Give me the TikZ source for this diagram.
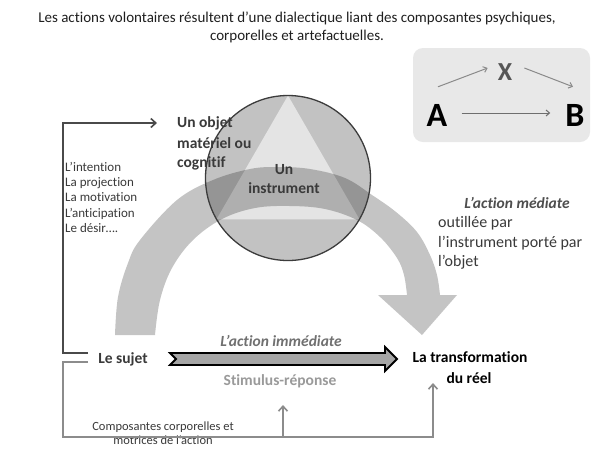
\documentclass[tikz,border=0pt]{standalone}
\usepackage{fontspec}
\setmainfont{Carlito}[Ligatures=CommonOff]
\usetikzlibrary{arrows.meta}
\definecolor{circfill}{HTML}{C2C2C2}
\definecolor{trifill}{HTML}{E4E4E4}
\definecolor{circline}{HTML}{3C3C3C}
\definecolor{boxfill}{HTML}{E8E8E8}
\definecolor{darkline}{HTML}{4A4A4A}
\definecolor{lightline}{HTML}{8C8C8C}
\definecolor{bigarrow}{HTML}{A6A6A6}
\definecolor{txtdark}{HTML}{3A3A3A}
\definecolor{txtgray}{HTML}{707070}
\definecolor{txtlight}{HTML}{9A9A9A}
\definecolor{xcol}{HTML}{555555}
\definecolor{smallarrow}{HTML}{8A8A8A}
\begin{document}
\begin{tikzpicture}[x=1pt,y=1pt,
  every node/.style={inner sep=0pt},
  lblb/.style={font=\fontsize{15.5}{19}\selectfont\bfseries},
  lblbi/.style={font=\fontsize{15.5}{19}\selectfont\bfseries\itshape},
  lblr/.style={font=\fontsize{16}{20}\selectfont},
  listtxt/.style={font=\fontsize{13}{15}\selectfont, text=txtdark, anchor=base west},
  smalltxt/.style={font=\fontsize{12.5}{15}\selectfont, text=txtdark, anchor=base},
  bracketdark/.style={draw=darkline, line width=1.6pt},
  bracketlight/.style={draw=lightline, line width=1.6pt},
  barb/.style={-{Straight Barb[length=5pt,width=9pt,line width=1.6pt]}},
  boxarrow/.style={line width=1pt, -{Straight Barb[length=3.5pt,width=6pt]}}]
\useasboundingbox (0,0) rectangle (594,-448);
\fill[white] (0,0) rectangle (594,-448);

% title
\node[font=\fontsize{15}{18}\selectfont, text=black!88, anchor=base] (title1) at (297,-22.5) {Les actions volontaires résultent d’une dialectique liant des composantes psychiques,};
\node[font=\fontsize{15}{18}\selectfont, text=black!88, anchor=base] (title2) at (297,-40.5) {corporelles et artefactuelles.};

% top right box
\node[fill=boxfill, rounded corners=10pt, minimum width=177pt, minimum height=94pt] (box) at (501.5,-95) {};
\node[font=\fontsize{34}{34}\selectfont\bfseries, inner sep=3pt] (A) at (437,-115) {A};
\node[font=\fontsize{34}{34}\selectfont\bfseries, inner sep=3pt] (B) at (575,-115) {B};
\node[font=\fontsize{26}{26}\selectfont\bfseries, text=xcol, inner sep=3pt] (X) at (505,-72) {X};
\draw[boxarrow, draw=darkline!80] ([shift={(11,2)}]A.east) -- ([shift={(-12,2)}]B.west);
\draw[boxarrow, draw=smallarrow] ([shift={(1,14)}]A.north) -- ([shift={(-7,4)}]X.west);
\draw[boxarrow, draw=smallarrow] ([shift={(9,4)}]X.east) -- ([shift={(-2,14)}]B.north);

% circle with triangle
\fill[circfill] (288,-178) circle[radius=82.5];
\fill[trifill] (288,-95.5) -- (216.55,-219.25) -- (359.45,-219.25) -- cycle;

% big curved arrow
\fill[black, fill opacity=0.23]
  plot[smooth, tension=0.6] coordinates {(115,-335) (118,-297) (128,-263) (140,-240) (177,-200)
    (213,-180) (250,-169) (278,-167) (310,-169) (345,-178) (372,-195) (396,-212) (417,-232)
    (430,-255) (437,-275) (440,-295)}
  -- (457,-295) -- (422,-335) -- (378,-295) --
  plot[smooth, tension=0.6] coordinates {(407,-295) (404,-275) (397,-258) (380,-237) (357,-220)
    (325,-209) (290,-206) (255,-208) (222,-219) (193,-240) (172,-268) (160,-300) (155,-335)}
  -- cycle;

\draw[circline, line width=1.3pt] (288,-178) circle[radius=82.5];

% texts in and around circle
\node[lblb, text=txtdark, anchor=base west] (obj1) at (177,-127.8) {Un objet};
\node[lblb, text=txtdark, anchor=base west] (obj2) at (177,-148.3) {matériel ou};
\node[lblb, text=txtdark, anchor=base west] (obj3) at (177,-167.8) {cognitif};
\node[lblb, text=txtdark, anchor=base] (instr1) at (284,-174.8) {Un};
\node[lblb, text=txtdark, anchor=base] (instr2) at (284,-193.8) {instrument};

% left list
\node[listtxt] (l1) at (65,-171) {L’intention};
\node[listtxt] (l2) at (65,-186) {La projection};
\node[listtxt] (l3) at (65,-201) {La motivation};
\node[listtxt] (l4) at (65,-217) {L’anticipation};
\node[listtxt] (l5) at (65,-232) {Le désir….};

% right text
\node[lblbi, text=txtdark!90, anchor=base] (med) at (517,-208) {L’action médiate};
\node[lblr, text=txtdark, anchor=base west] (m1) at (438,-227.5) {outillée par};
\node[lblr, text=txtdark, anchor=base west] (m2) at (438,-247.5) {l’instrument porté par};
\node[lblr, text=txtdark, anchor=base west] (m3) at (438,-266.5) {l’objet};

% bottom row
\node[lblb, text=txtdark, anchor=base] (sujet) at (123,-363) {Le sujet};
\node[lblb, text=black, anchor=base] (transf1) at (470,-362) {La transformation};
\node[lblb, text=black, anchor=base] (transf2) at (469,-383) {du réel};
\node[lblbi, text=txtgray, anchor=base] (imm) at (281,-346) {L’action immédiate};
\node[lblb, text=txtlight, anchor=base] (stim) at (280,-385) {Stimulus-réponse};
\node[smalltxt] (comp1) at (163,-430.5) {Composantes corporelles et};
\node[smalltxt] (comp2) at (163,-444.5) {motrices de l’action};

% big straight arrow
\draw[line width=1.8pt, fill=bigarrow] (170,-353) -- (385,-353) -- (385,-347) -- (397,-359)
  -- (385,-371) -- (385,-365) -- (170,-365) -- (176,-359) -- cycle;

% brackets
\coordinate (sjTop) at (88,-353);
\coordinate (sjBot) at (88,-362);
\coordinate (objTip) at (157,-123);
\coordinate (transfTip) at (433,-383);
\coordinate (stimTip) at (283,-405);
\draw[bracketdark, barb] (sjTop) -- (63,-353) -- (63,-123) -- (objTip);
\draw[bracketlight, barb] (sjBot) -- (63,-362) -- (63,-437) -- (433,-437) -- (transfTip);
\draw[bracketlight, barb] (283,-437) -- (stimTip);
\end{tikzpicture}
\end{document}
